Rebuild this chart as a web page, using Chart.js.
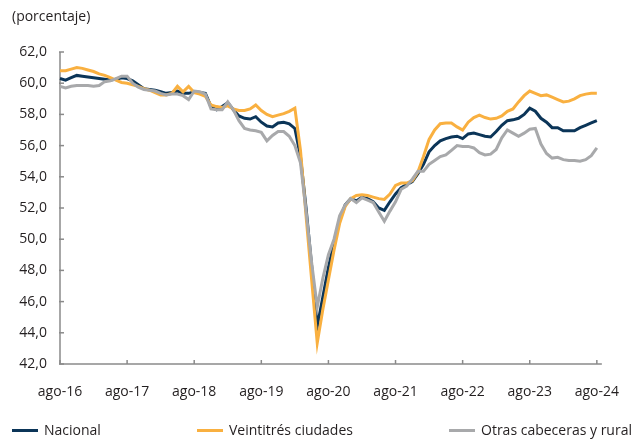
<!DOCTYPE html>
<html lang="es">
<head>
<meta charset="UTF-8">
<title>Tasa por dominio</title>
<script src="https://cdn.jsdelivr.net/npm/chart.js"></script>
<style>
  body { margin: 0; background: #fff; font-family: 'Open Sans', sans-serif; color: #231f20; }
  #wrap { position: relative; width: 639px; height: 441px; }
  #unit { position: absolute; left: 12px; top: 6px; font-size: 14px; line-height: 20px; }
  #legend { position: absolute; left: 12px; right: 7px; top: 420px; display: flex; justify-content: space-between; font-size: 14px; line-height: 20px; }
  .item { display: flex; align-items: center; }
  .swatch { width: 26px; height: 3px; margin-right: 6px; }
</style>
</head>
<body>
<div id="wrap">
  <canvas id="chart"></canvas>
  <div id="unit">(porcentaje)</div>
  <div id="legend"></div>
</div>
<script>
// serie mensual desde ago-16 hasta ago-24
const monthNames = ['ene','feb','mar','abr','may','jun','jul','ago','sep','oct','nov','dic'];
const startMonth = 7, startYear = 16;

const nacional = [
  60.3, 60.2, 60.35, 60.5, 60.45, 60.4, 60.35, 60.3, 60.25, 60.2, 60.25, 60.35,
  60.3, 60.15, 59.9, 59.65, 59.6, 59.55, 59.45, 59.35, 59.4, 59.5, 59.35, 59.35,
  59.45, 59.4, 59.35, 58.5, 58.3, 58.5, 58.75, 58.3, 57.9, 57.75, 57.7, 57.85,
  57.5, 57.25, 57.2, 57.45, 57.5, 57.4, 57.1, 55.3, 52.0, 48.3, 44.4, 46.3,
  48.2, 49.8, 51.2, 52.2, 52.6, 52.45, 52.7, 52.6, 52.4, 52.0, 51.85, 52.4,
  52.9, 53.3, 53.5, 53.7, 54.2, 54.8, 55.6, 56.0, 56.3, 56.45, 56.55, 56.6,
  56.45, 56.75, 56.8, 56.7, 56.6, 56.55, 56.9, 57.3, 57.6, 57.65, 57.75, 58.0,
  58.4, 58.2, 57.75, 57.5, 57.15, 57.15, 56.95, 56.95, 56.95, 57.15, 57.3, 57.45,
  57.6
];
const veintitres = [
  60.8, 60.8, 60.9, 61.0, 60.95, 60.85, 60.75, 60.6, 60.5, 60.35, 60.2, 60.05,
  60.0, 59.9, 59.8, 59.65, 59.55, 59.4, 59.25, 59.25, 59.35, 59.8, 59.45, 59.8,
  59.4, 59.3, 59.15, 58.6, 58.5, 58.45, 58.55, 58.35, 58.25, 58.25, 58.35, 58.6,
  58.25, 58.0, 57.85, 57.95, 58.05, 58.2, 58.4, 55.7, 51.5, 47.4, 43.35, 45.5,
  47.4, 49.3, 51.0, 52.1, 52.6, 52.8, 52.85, 52.8, 52.7, 52.6, 52.55, 52.9,
  53.45, 53.6, 53.6, 53.75, 54.3, 55.3, 56.4, 57.0, 57.4, 57.45, 57.45, 57.2,
  57.0, 57.5, 57.8, 57.95, 57.8, 57.7, 57.75, 57.9, 58.2, 58.35, 58.8, 59.2,
  59.5, 59.35, 59.2, 59.25, 59.1, 58.95, 58.8, 58.85, 59.0, 59.2, 59.3, 59.35,
  59.35
];
const otras = [
  59.8, 59.7, 59.8, 59.85, 59.85, 59.85, 59.8, 59.85, 60.1, 60.15, 60.3, 60.45,
  60.45, 60.0, 59.75, 59.6, 59.55, 59.5, 59.35, 59.25, 59.3, 59.3, 59.2, 58.95,
  59.5, 59.45, 59.3, 58.35, 58.3, 58.3, 58.8, 58.3, 57.6, 57.1, 57.0, 56.95,
  56.85, 56.3, 56.65, 56.9, 56.9, 56.6, 56.0, 54.9, 51.8, 48.5, 45.65, 47.5,
  49.0, 50.0, 51.5, 52.2, 52.6, 52.35, 52.65, 52.5, 52.35, 51.75, 51.15, 51.8,
  52.4, 53.2, 53.4, 53.85, 54.35, 54.35, 54.8, 55.05, 55.3, 55.4, 55.7, 56.0,
  55.95, 55.95, 55.85, 55.55, 55.4, 55.45, 55.75, 56.5, 57.0, 56.8, 56.6, 56.8,
  57.05, 57.1, 56.1, 55.5, 55.2, 55.25, 55.1, 55.05, 55.05, 55.0, 55.1, 55.35,
  55.85
];

const seriesNames = ['Nacional', 'Veintitrés ciudades', 'Otras cabeceras y rural'];
const colors = ['#0b3558', '#f9b040', '#a8a9ab'];
const axisColor = '#8a8a8a';

const labels = [];
for (let k = 0; k < nacional.length; k++) {
  const m = (startMonth + k) % 12;
  const y = startYear + Math.floor((startMonth + k) / 12);
  labels.push(monthNames[m] + '-' + y);
}

// ejes y marcas hacia adentro
const axesPlugin = {
  id: 'axesPlugin',
  beforeDatasetsDraw(chart) {
    const { ctx, chartArea: a, scales } = chart;
    ctx.save();
    ctx.strokeStyle = axisColor;
    ctx.lineWidth = 1.5;
    ctx.beginPath();
    ctx.moveTo(a.left, a.top);
    ctx.lineTo(a.left, a.bottom);
    ctx.lineTo(a.right + 5, a.bottom);
    ctx.stroke();
    scales.y.ticks.forEach((t, i) => {
      const y = scales.y.getPixelForTick(i);
      ctx.beginPath();
      ctx.moveTo(a.left - 1, y);
      ctx.lineTo(a.left + 4, y);
      ctx.stroke();
    });
    scales.x.ticks.forEach((t, i) => {
      if (!t.label) return;
      const x = scales.x.getPixelForTick(i);
      ctx.beginPath();
      ctx.moveTo(x, a.bottom);
      ctx.lineTo(x, a.bottom - 4);
      ctx.stroke();
    });
    ctx.restore();
  }
};

Chart.defaults.font.family = "'Open Sans', sans-serif";
Chart.defaults.font.size = 14;
Chart.defaults.color = '#231f20';

const data = [nacional, veintitres, otras];
const chart = new Chart(document.getElementById('chart'), {
  type: 'line',
  data: {
    labels: labels,
    datasets: data.map((d, i) => ({
      label: seriesNames[i],
      data: d,
      borderColor: colors[i],
      backgroundColor: colors[i],
      borderWidth: 3,
      pointRadius: 0,
      tension: 0,
      order: 2 - i
    }))
  },
  options: {
    responsive: true,
    maintainAspectRatio: false,
    animation: false,
    layout: { padding: { top: 52, right: 38, bottom: 0, left: 0 } },
    plugins: { legend: { display: false }, tooltip: { enabled: false } },
    scales: {
      x: {
        grid: { display: false, drawTicks: false },
        border: { display: false },
        ticks: {
          autoSkip: false,
          maxRotation: 0,
          padding: 20,
          callback: function (v, i) {
            const l = this.getLabelForValue(v);
            return l.startsWith('ago') ? l : '';
          }
        },
        afterFit: s => { s.height = 77; }
      },
      y: {
        min: 42,
        max: 62,
        grid: { display: false, drawTicks: false },
        border: { display: false },
        ticks: {
          stepSize: 2,
          padding: 13,
          callback: v => v.toFixed(1).replace('.', ',')
        },
        afterFit: s => { s.width = 60; }
      }
    }
  },
  plugins: [axesPlugin]
});

const legend = document.getElementById('legend');
chart.data.datasets.forEach(ds => {
  const item = document.createElement('div');
  item.className = 'item';
  const sw = document.createElement('span');
  sw.className = 'swatch';
  sw.style.background = ds.borderColor;
  const tx = document.createElement('span');
  tx.textContent = ds.label;
  item.appendChild(sw);
  item.appendChild(tx);
  legend.appendChild(item);
});
</script>
</body>
</html>
